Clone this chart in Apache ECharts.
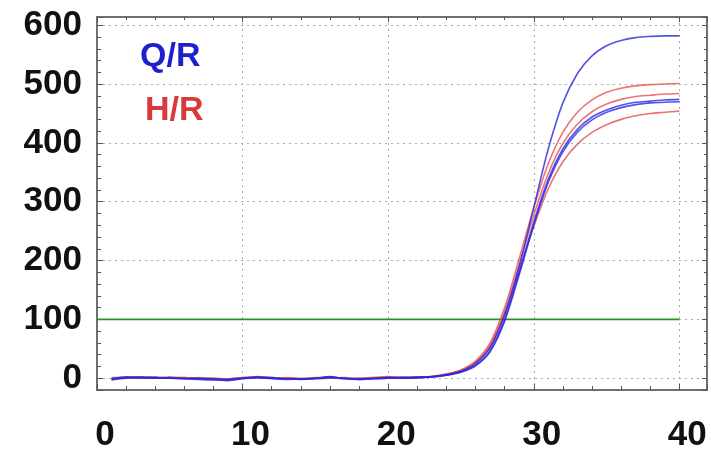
<!DOCTYPE html>
<html>
<head>
<meta charset="utf-8">
<script src="https://cdn.jsdelivr.net/npm/echarts@6/dist/echarts.min.js"></script>
<style>
html,body{margin:0;padding:0;background:#fff;}
#chart{width:711px;height:453px;}
</style>
</head>
<body>
<div id="chart"></div>
<script>
var cycles = [1,2,3,4,5,6,7,8,9,10,11,12,13,14,15,16,17,18,19,20,21,22,23,24,25,26,27,28,29,30,31,32,33,34,35,36,37,38,39,40];
var qr1 = [-2,1,2,1,0,-1,0,-1,-3,0,1,0,-1,-1,0,2,0,-1,0,1,1,2, 3,6,12,25,52,108,190,290,390,468,518,548,565,574,579,581,582,582];
var qr2 = [-1,2,1,0,1,-1,-2,-3,-2,0,2,1,-1,-2,-1,1,0,-2,-1,0,1,1, 2,5,11,22,47,100,180,265,338,390,423,444,456,464,469,471,473,474];
var qr3 = [-3,0,1,1,0,0,-1,-2,-4,-1,1,-1,-2,-1,0,3,-1,-2,-1,0,0,1, 2,5,10,21,45,97,176,260,333,385,418,439,452,460,465,468,469,470];
var hr1 = [0,2,2,1,1,0,1,-1,-1,1,3,1,0,-1,0,1,0,0,1,2,1,2, 3,7,14,29,60,120,203,290,365,418,452,473,486,493,497,499,500,501];
var hr2 = [1,1,0,2,0,1,0,0,-2,0,2,0,1,0,-1,0,1,-1,0,3,0,1, 3,7,13,27,56,113,193,277,348,399,432,453,466,474,479,481,483,484];
var hr3 = [-1,1,1,0,2,1,-1,0,-1,1,2,0,0,-1,1,1,-1,0,1,1,2,1, 3,6,13,26,54,108,183,258,322,368,398,418,431,440,446,450,452,454];
var thresholdX = [0, 40];
var thresholdY = 100;
var legendLabels = ['Q/R', 'H/R'];

var BLUE = 'rgba(40,40,225,0.8)';
var RED = 'rgba(228,70,70,0.75)';
var FONT = '"Liberation Sans", Arial, sans-serif';

function pairs(ys){ return cycles.map(function(c,i){ return [c, ys[i]]; }); }
function curve(name, ys, color){
  return {
    name: name, type: 'line', data: pairs(ys), showSymbol: false,
    smooth: 0.3,
    lineStyle: {color: color, width: 1.6}, itemStyle: {color: color},
    xAxisIndex: 0, yAxisIndex: 0, z: 3
  };
}

var chart = echarts.init(document.getElementById('chart'), null, {renderer: 'canvas'});
var tickStyle = {color: '#555', width: 1};
var option = {
  animation: false,
  grid: {left: 97, right: 4, top: 17, bottom: 63, show: true, borderColor: '#666', borderWidth: 1.5, backgroundColor: '#fff'},
  xAxis: [{
    type: 'value', min: 0, max: 41.9, position: 'bottom',
    axisLine: {show: true, onZero: false, lineStyle: {color: '#666', width: 1.5}},
    axisTick: {show: true, inside: true, length: 6, lineStyle: tickStyle},
    minorTick: {show: true, splitNumber: 5, length: 4, lineStyle: tickStyle},
    axisLabel: {show: true, showMaxLabel: false, margin: 28, color: '#111', fontSize: 35, fontWeight: 'bold', fontFamily: FONT, padding: [0,0,0,16]},
    splitLine: {show: true, lineStyle: {color: '#aaa', type: [2, 4], width: 1}}
  }, {
    type: 'value', min: 0, max: 41.9, position: 'top',
    axisLine: {show: true, onZero: false, lineStyle: {color: '#666', width: 1.5}},
    axisTick: {show: true, inside: true, length: 5, lineStyle: tickStyle},
    minorTick: {show: true, splitNumber: 5, length: 3, lineStyle: tickStyle},
    axisLabel: {show: false}, splitLine: {show: false}
  }],
  yAxis: [{
    type: 'value', min: -20, max: 614, position: 'left',
    axisLine: {show: true, onZero: false, lineStyle: {color: '#666', width: 1.5}},
    axisTick: {show: true, inside: true, length: 6, lineStyle: tickStyle},
    minorTick: {show: true, splitNumber: 5, length: 4, lineStyle: tickStyle},
    axisLabel: {show: true, showMinLabel: false, showMaxLabel: false, margin: 15, color: '#111', fontSize: 35, fontWeight: 'bold', fontFamily: FONT},
    splitLine: {show: true, lineStyle: {color: '#aaa', type: [2, 4], width: 1}}
  }, {
    type: 'value', min: -20, max: 614, position: 'right',
    axisLine: {show: true, onZero: false, lineStyle: {color: '#666', width: 1.5}},
    axisTick: {show: true, inside: true, length: 5, lineStyle: tickStyle},
    minorTick: {show: true, splitNumber: 5, length: 3, lineStyle: tickStyle},
    axisLabel: {show: false}, splitLine: {show: false}
  }],
  graphic: [
    {type: 'text', left: 140, top: 40, style: {text: legendLabels[0], fill: '#1f1fd0', font: 'bold 34px ' + FONT}},
    {type: 'text', left: 145, top: 94, style: {text: legendLabels[1], fill: '#d63a3a', font: 'bold 34px ' + FONT}}
  ],
  series: [
    {
      name: 'threshold', type: 'line', showSymbol: false,
      data: thresholdX.map(function(x){ return [x, thresholdY]; }),
      lineStyle: {color: '#2a8f2a', width: 1.8}, z: 2
    },
    curve('H/R 1', hr1, RED),
    curve('H/R 2', hr2, RED),
    curve('H/R 3', hr3, RED),
    curve('Q/R 1', qr1, BLUE),
    curve('Q/R 2', qr2, BLUE),
    curve('Q/R 3', qr3, BLUE)
  ]
};
chart.setOption(option);
</script>
</body>
</html>
